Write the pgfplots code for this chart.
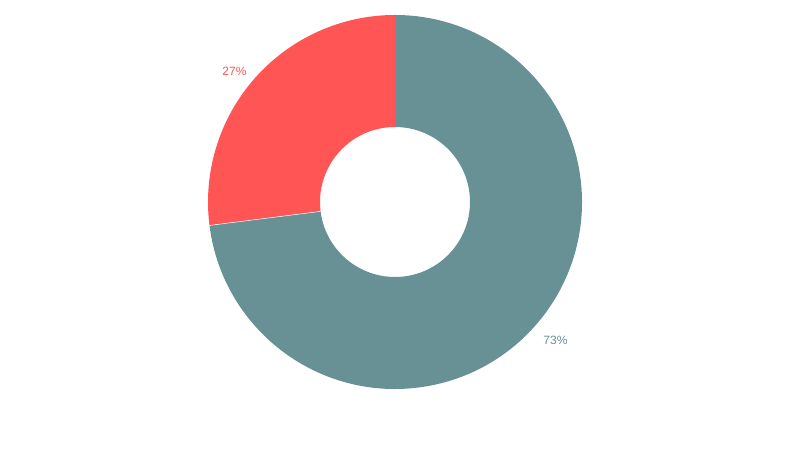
\documentclass[border=0pt]{standalone}
\usepackage{pgfplots}
\pgfplotsset{compat=1.18}
\usepackage{pgfplotstable}
\usepackage{fontspec}
\setmainfont{Liberation Sans}
\definecolor{slicered}{HTML}{FF5555}
\definecolor{sliceteal}{HTML}{679194}
\pgfplotstableread{
name value
Red 27
Teal 73
}\datatable
\begin{document}%
\begin{tikzpicture}
\pgfplotstablegetelem{0}{value}\of\datatable \let\vA\pgfplotsretval
\pgfplotstablegetelem{1}{value}\of\datatable \let\vB\pgfplotsretval
\pgfmathsetmacro\total{\vA+\vB}
\pgfmathsetmacro\aA{360*\vA/\total}
\pgfmathsetmacro\sA{90}
\pgfmathsetmacro\eA{90+\aA}
\pgfmathsetmacro\sB{\eA}
\pgfmathsetmacro\eB{450}
\pgfmathsetmacro\cx{395}
\pgfmathsetmacro\cy{248}
\pgfmathsetmacro\Ro{187}
\pgfmathsetmacro\Ri{75}
\pgfmathsetmacro\AoX{\cx+\Ro*cos(\sA)}\pgfmathsetmacro\AoY{\cy+\Ro*sin(\sA)}
\pgfmathsetmacro\AiX{\cx+\Ri*cos(\eA)}\pgfmathsetmacro\AiY{\cy+\Ri*sin(\eA)}
\pgfmathsetmacro\BoX{\cx+\Ro*cos(\sB)}\pgfmathsetmacro\BoY{\cy+\Ro*sin(\sB)}
\pgfmathsetmacro\BiX{\cx+\Ri*cos(\eB)}\pgfmathsetmacro\BiY{\cy+\Ri*sin(\eB)}
\pgfmathsetmacro\LAX{234.5}\pgfmathsetmacro\LAY{379}
\pgfmathsetmacro\LBX{555.5}\pgfmathsetmacro\LBY{110}
\begin{axis}[
  width=800bp, height=450bp, scale only axis,
  xmin=0, xmax=800, ymin=0, ymax=450,
  hide axis, clip=false,
]
\path (rel axis cs:0,0) rectangle (rel axis cs:1,1);
\fill[slicered]
  (axis cs:\AoX,\AoY) arc[start angle=\sA, end angle=\eA, radius=\Ro bp]
  -- (axis cs:\AiX,\AiY) arc[start angle=\eA, end angle=\sA, radius=\Ri bp] -- cycle;
\fill[sliceteal]
  (axis cs:\BoX,\BoY) arc[start angle=\sB, end angle=\eB, radius=\Ro bp]
  -- (axis cs:\BiX,\BiY) arc[start angle=\eB, end angle=\sB, radius=\Ri bp] -- cycle;
\draw[white, line width=0.5bp] (axis cs:\AiX,\AiY) -- (axis cs:\BoX,\BoY);
\node[text=slicered, font=\fontsize{12bp}{14bp}\selectfont, inner sep=0pt] at (axis cs:\LAX,\LAY) {\vA\%};
\node[text=sliceteal, font=\fontsize{12bp}{14bp}\selectfont, inner sep=0pt] at (axis cs:\LBX,\LBY) {\vB\%};
\end{axis}
\end{tikzpicture}%
\end{document}
